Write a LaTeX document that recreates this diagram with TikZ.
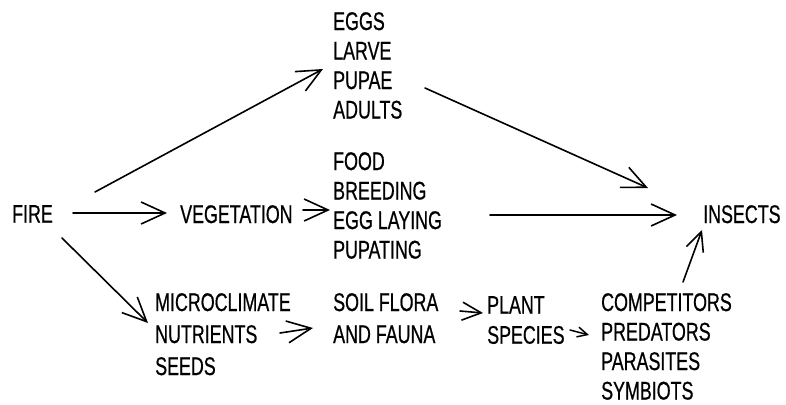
\documentclass[tikz,border=0pt]{standalone}
\usepackage{fontspec}
\newfontfamily\lblfont{Liberation Sans}[FakeStretch=0.70,FakeBold=0.6]
\usetikzlibrary{arrows.meta,calc}
\tikzset{
  lbl/.style={anchor=north west, inner sep=0pt, align=left,
    font=\lblfont\fontsize{25.5}{29.5}\selectfont},
  wide/.style={font=\lblfont\fontsize{25.5}{32}\selectfont},
  mid/.style={font=\lblfont\fontsize{25.5}{30}\selectfont},
  arr/.style={line width=1.6pt, line cap=round,
    -{Straight Barb[length=24pt,width=22pt,line width=1.6pt]}},
  smallarr/.style={line width=1.6pt, line cap=round,
    -{Straight Barb[length=19pt,width=18pt,line width=1.6pt]}},
  tinyarr/.style={line width=1.5pt, line cap=round,
    -{Straight Barb[length=10pt,width=10pt,line width=1.5pt]}},
}
\begin{document}
\begin{tikzpicture}[x=1pt,y=-1pt]
\useasboundingbox (0,0) rectangle (786,404);
\node[lbl] (fire) at (12,205) {FIRE};
\node[lbl] (veg) at (180,205) {VEGETATION};
\node[lbl] (ins) at (703,205) {INSECTS};
\node[lbl] (eggs) at (333,12) {EGGS\\LARVE\\PUPAE\\ADULTS};
\node[lbl] (food) at (333,152) {FOOD\\BREEDING\\EGG LAYING\\PUPATING};
\node[lbl,wide] (micro) at (155,293) {MICROCLIMATE\\NUTRIENTS\\SEEDS};
\node[lbl,wide] (soil) at (333,293) {SOIL FLORA\\AND FAUNA};
\node[lbl,mid] (plant) at (487,296) {PLANT\\SPECIES};
\node[lbl] (comp) at (601,293) {COMPETITORS\\PREDATORS\\PARASITES\\SYMBIOTS};

\draw[arr] ($(fire.north west)+(83,-13)$) -- ($(eggs.north west)+(-10,57)$);
\draw[arr] ($(eggs.north west)+(92,76)$) -- ($(ins.north west)+(-55,-17)$);
\draw[arr] ($(fire.north west)+(61,8)$) -- ($(veg.north west)+(-13,8)$);
\draw[arr] ($(veg.north west)+(123,5)$) -- ($(food.north west)+(-3,58)$);
\draw[arr] ($(food.north west)+(157,63)$) -- ($(ins.north west)+(-26,10)$);
\draw[arr] ($(fire.north west)+(50,33)$) -- ($(micro.north west)+(-7,30)$);
\draw[arr] ($(micro.north west)+(125,40)$) -- ($(soil.north west)+(-20,35)$);
\draw[smallarr] ($(soil.north west)+(127,18)$) -- ($(plant.north west)+(-4,17)$);
\draw[tinyarr] ($(plant.north west)+(83,34)$) -- ($(comp.north west)+(-12,42)$);
\draw[smallarr] ($(comp.north west)+(82,-11)$) -- ($(ins.north west)+(-1,25)$);
\end{tikzpicture}
\end{document}
